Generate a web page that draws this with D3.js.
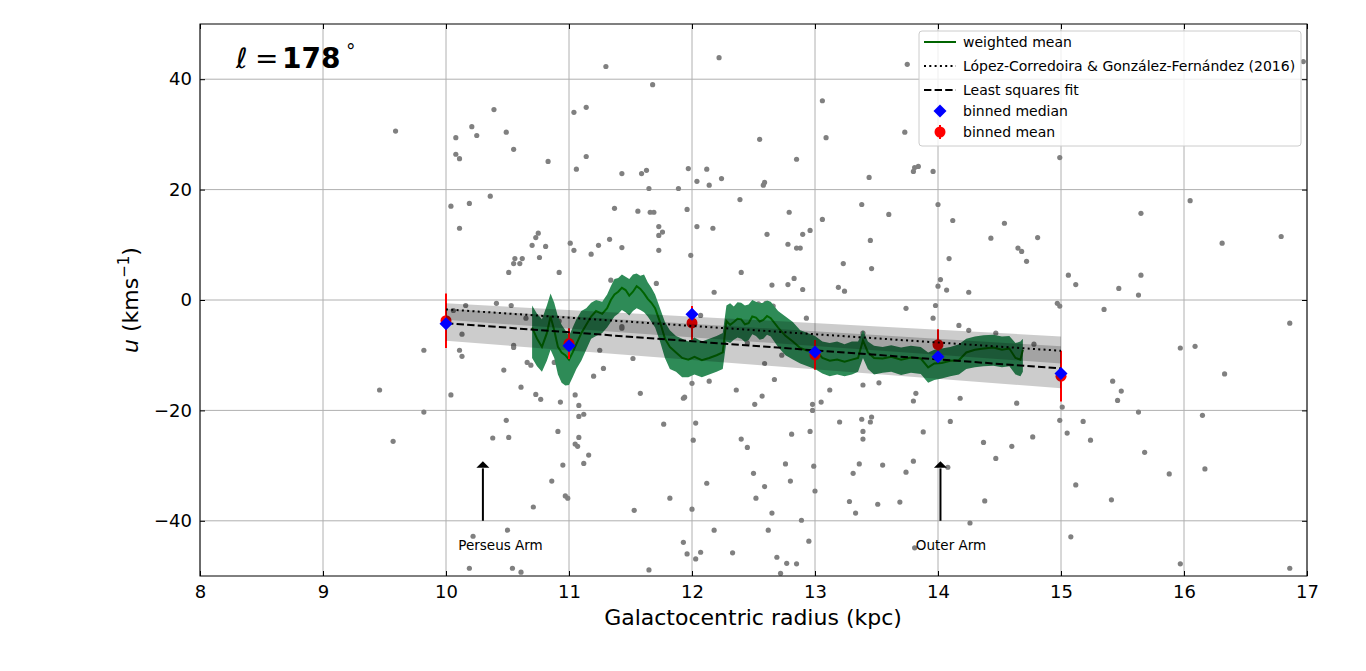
<!DOCTYPE html>
<html>
<head>
<meta charset="utf-8">
<script src="https://cdn.jsdelivr.net/npm/d3@7"></script>
<style>
body { margin: 0; background: #fff; }
text { font-family: "DejaVu Sans", sans-serif; }
</style>
</head>
<body>
<svg id="svg"></svg>
<script>
// individual stars: [R (kpc), u (km/s)]
const stars = [
  [9.59,30.6],[9.46,-16.3],[9.57,-25.6],[9.82,-9.1],[9.82,-20.3],
  [10.08,29.4],[10.08,26.4],[10.11,25.6],[10.21,31.4],[10.25,29.8],[10.39,34.5],[10.49,30.4],[10.55,27.3],[10.83,25.1],
  [10.04,17.0],[10.19,17.5],[10.36,18.8],[10.11,13.0],[10.70,9.9],[10.73,11.3],[10.75,12.1],[10.81,9.7],[10.76,7.7],
  [10.55,6.6],[10.56,7.5],[10.60,6.6],[10.62,7.5],[10.51,5.0],[10.92,5.0],[11.01,10.3],[11.04,9.0],
  [11.04,34.0],[11.14,34.9],[11.30,42.3],[11.68,39.0],[11.06,23.7],[11.14,26.0],[11.43,22.9],[11.59,22.9],[11.63,23.5],
  [11.65,20.2],[11.89,20.2],[11.97,23.8],[11.37,16.6],[11.56,16.1],[11.66,15.9],[11.69,15.9],[11.96,16.4],[11.73,13.3],
  [11.73,11.7],[11.76,12.3],[11.33,11.0],[11.24,9.9],[11.43,9.5],[11.18,8.3],[11.73,9.0],[11.34,3.6],[11.71,3.0],
  [12.22,43.9],[13.75,42.7],[13.06,36.1],[13.09,29.4],[13.73,30.4],[12.55,29.1],[12.85,25.5],[12.12,23.7],[12.04,21.5],
  [12.14,20.8],[12.24,22.0],[12.59,21.3],[12.58,20.8],[13.44,22.2],[13.80,23.3],[13.81,24.0],[13.84,24.2],[13.96,23.3],
  [12.39,18.2],[12.79,15.9],[13.38,17.3],[13.60,15.5],[14.00,17.3],[13.06,14.6],[14.12,14.4],[14.54,13.9],[12.04,13.3],
  [12.17,13.0],[12.61,11.9],[12.90,11.9],[12.96,12.6],[12.78,10.1],[12.85,9.4],[12.88,9.4],[13.45,10.8],[14.43,11.2],
  [11.99,8.1],[14.09,7.5],[13.23,6.6],[13.46,5.7],[12.40,5.0],[12.83,3.9],[12.65,2.7],[12.78,2.8],[12.90,1.9],[13.19,2.3],
  [13.24,1.6],[12.18,1.4],[14.02,3.7],[14.00,2.5],[14.07,1.8],[14.25,1.4],[16.97,43.2],
  [14.99,25.8],[16.05,18.0],[15.65,15.7],[14.81,11.3],[14.65,9.4],[14.68,8.8],[14.72,7.0],[16.31,10.3],[16.79,11.5],
  [15.06,4.5],[15.12,2.8],[15.47,2.1],[15.65,4.5],[15.63,0.9],[14.97,-0.6],[14.99,-1.1],[15.35,-1.7],[16.86,-4.2],
  [14.78,-8.0],[15.97,-8.7],[16.09,-8.4],[16.33,-13.4],[15.42,-14.7],[15.49,-16.5],[15.46,-18.2],[15.63,-20.3],
  [14.64,-18.7],[15.01,-19.4],[14.99,-21.8],[15.18,-22.0],[15.05,-24.1],[15.24,-25.4],[14.77,-24.8],[14.60,-26.5],
  [16.15,-20.9],[15.68,-27.6],[15.88,-31.5],[16.17,-30.6],[15.12,-33.5],[15.41,-36.2],[15.08,-42.9],[15.97,-47.8],[16.86,-48.6],
  [10.16,-1.0],[10.41,-0.6],[10.53,-1.0],[10.06,-1.9],[10.13,-6.2],[10.11,-9.1],[10.13,-10.2],[10.47,-12.7],[10.55,-8.6],
  [10.55,-8.2],[10.66,-11.3],[10.69,-11.8],[10.88,-11.3],[10.61,-15.8],[10.73,-17.1],[10.77,-18.0],[10.93,-18.5],
  [10.04,-17.2],[10.49,-21.8],[10.38,-25.0],[10.51,-24.9],[10.91,-23.8],[11.05,-17.2],[11.08,-19.1],[11.08,-21.1],
  [11.12,-20.7],[11.08,-24.9],[11.05,-26.1],[11.07,-26.5],[11.16,-28.1],[11.12,-29.6],[10.95,-29.9],[10.86,-32.8],
  [10.97,-35.5],[10.99,-35.9],[10.71,-37.5],[11.20,-13.8],[11.28,-12.4],[11.25,-9.1],[11.52,-10.6],[11.58,-16.9],
  [11.93,-17.8],[11.94,-17.6],[11.77,-22.5],[11.82,-35.9],[11.53,-38.1],[11.43,-5.1],[11.43,-4.8],[10.22,-42.8],
  [10.50,-41.7],[10.19,-48.6],[10.54,-48.6],[10.61,-49.3],[11.65,-48.9],[11.93,-43.9],[11.96,-46.0],[10.92,-3.8],[10.65,-3.3],
  [12.93,-3.3],[13.39,-6.0],[13.21,-8.3],[12.73,-10.0],[12.59,-11.5],[12.67,-14.4],[13.12,-16.3],[13.39,-15.4],[13.52,-15.0],
  [13.74,-1.5],[13.98,-1.0],[13.96,-3.3],[14.17,-4.6],[14.25,-5.5],[14.47,-6.0],[13.82,-16.9],[14.18,-17.8],
  [12.54,-0.7],[12.60,-0.6],[12.66,-1.1],[12.07,-2.8],[12.45,-7.8],[12.36,-16.3],[12.57,-17.4],[12.51,-18.9],[12.14,-14.7],
  [12.00,-15.1],[12.98,-18.9],[12.98,-20.0],[13.05,-18.5],[13.80,-18.3],[12.03,-22.3],[12.01,-25.4],[12.40,-25.2],
  [12.45,-26.7],[12.81,-24.3],[12.96,-23.8],[13.20,-22.1],[13.38,-21.6],[13.45,-22.1],[13.46,-21.2],[13.39,-23.8],
  [13.39,-25.2],[13.88,-23.9],[14.10,-22.0],[14.37,-25.8],[14.47,-28.7],[14.08,-30.3],[12.76,-29.7],[12.99,-30.1],
  [13.36,-29.7],[13.55,-29.9],[13.80,-29.2],[13.74,-31.2],[13.31,-31.4],[12.50,-31.4],[12.80,-32.8],[12.12,-33.2],
  [12.59,-33.8],[13.00,-34.6],[12.52,-35.9],[13.28,-36.5],[13.51,-37.0],[13.69,-36.6],[14.38,-36.4],[13.33,-38.6],
  [12.65,-38.6],[12.00,-37.9],[12.89,-39.9],[14.26,-40.4],[12.18,-41.7],[12.62,-41.7],[12.95,-43.7],[12.07,-45.7],
  [12.33,-45.8],[12.03,-46.9],[12.69,-46.6],[12.77,-47.7],[12.85,-47.8],[12.72,-49.5],[13.81,-44.9]
];

// running weighted mean and its 1-sigma band
const wmR = [10.70,10.74,10.78,10.82,10.85,10.88,10.91,10.94,10.97,11.00,11.03,11.06,11.10,11.14,11.18,11.22,11.27,11.31,
  11.34,11.37,11.40,11.43,11.46,11.49,11.52,11.55,11.58,11.61,11.64,11.67,11.70,11.74,11.78,11.82,11.87,11.92,11.97,
  12.02,12.08,12.14,12.20,12.25,12.28,12.31,12.34,12.37,12.40,12.43,12.46,12.49,12.52,12.55,12.58,12.61,12.64,
  12.70,12.76,12.82,12.88,12.94,13.00,13.06,13.12,13.18,13.24,13.30,13.35,13.39,13.43,
  13.48,13.55,13.62,13.70,13.78,13.86,13.92,13.97,14.03,14.10,14.17,14.23,14.30,14.37,14.45,14.52,14.58,14.63,14.67,14.69];
const wmMean = [-5.0,-7.0,-8.5,-6.0,-3.0,-5.5,-8.5,-9.5,-10.0,-10.8,-9.5,-8.0,-6.0,-4.5,-3.0,-2.0,-2.5,-1.5,
  0.0,1.0,1.5,2.2,1.8,0.8,1.5,2.5,2.0,1.2,0.2,-0.5,-1.5,-4.0,-7.0,-8.5,-9.5,-10.5,-10.8,
  -10.3,-10.9,-10.5,-10.0,-9.5,-3.8,-4.5,-4.0,-3.4,-3.5,-4.4,-4.2,-3.0,-3.2,-3.9,-3.6,-2.9,-3.3,
  -5.0,-6.5,-7.5,-8.7,-9.2,-9.0,-10.5,-11.0,-10.8,-11.2,-10.8,-10.5,-7.3,-9.5,
  -10.5,-10.6,-10.3,-10.8,-10.4,-10.6,-12.2,-11.5,-11.4,-11.0,-10.9,-9.5,-9.0,-8.8,-8.6,-9.0,-8.8,-10.5,-10.8,-9.0];
const wmLo = [-10.5,-12.0,-13.0,-11.0,-9.0,-10.5,-13.5,-15.0,-15.5,-15.4,-14.0,-12.5,-11.0,-9.0,-7.0,-6.5,-6.0,-5.0,
  -4.0,-3.0,-2.5,-1.8,-2.2,-2.8,-2.0,-1.5,-1.8,-2.2,-3.0,-4.0,-5.0,-7.5,-10.5,-12.5,-13.0,-14.0,-14.0,
  -13.5,-14.0,-13.5,-13.0,-12.5,-7.5,-7.8,-7.2,-6.8,-7.0,-7.6,-7.3,-6.2,-6.5,-7.2,-7.0,-6.3,-6.6,
  -8.5,-10.0,-10.8,-11.5,-12.0,-12.5,-13.3,-13.8,-13.5,-13.8,-13.5,-13.0,-10.5,-12.5,
  -13.5,-13.2,-13.0,-13.6,-13.2,-13.4,-15.0,-14.5,-14.2,-13.8,-13.5,-12.5,-12.2,-12.0,-11.9,-12.2,-12.0,-13.5,-13.8,-13.0];
const wmHi = [-1.0,-2.5,-3.5,-1.0,1.2,-0.5,-3.0,-4.5,-5.5,-6.5,-5.0,-3.5,-2.0,-1.5,-0.5,0.0,-0.3,1.0,
  2.5,3.8,4.0,4.6,4.2,3.8,4.6,4.8,4.4,4.6,3.2,2.2,1.0,-1.5,-4.0,-5.5,-6.5,-7.0,-7.5,
  -6.8,-7.5,-7.0,-6.5,-6.0,-1.0,-0.6,-1.2,-0.4,-0.5,-1.0,-0.8,0.0,-0.3,-0.6,-0.5,-0.1,-0.3,
  -2.0,-3.0,-4.0,-5.5,-6.0,-6.5,-7.5,-7.8,-7.5,-8.0,-7.5,-7.5,-5.5,-7.5,
  -8.3,-8.5,-8.2,-8.6,-8.3,-8.5,-9.5,-9.0,-8.8,-8.5,-8.0,-7.0,-6.6,-6.4,-6.3,-6.6,-6.5,-7.8,-7.5,-7.0];

// binned statistics
const binR = [10, 11, 12, 13, 14, 15];
const binMean = [-3.75, -7.9, -4.15, -9.95, -8.1, -13.8];
const binErr = [4.95, 2.8, 3.05, 2.7, 2.8, 4.6];
const binMedian = [-4.3, -8.3, -2.6, -9.4, -10.3, -13.3];

// linear fits (ends at R = 10 and 15) with their uncertainty bands
const fitR = [10, 15];
const lcFit = [-1.7, -9.2], lcLo = [-3.6, -11.5], lcHi = [-0.6, -6.6];
const lsFit = [-4.2, -12.4], lsLo = [-7.4, -16.0], lsHi = [-1.6, -8.4];

// spiral arm markers
const armNames = ["Perseus Arm", "Outer Arm"];
const armR = [10.3, 14.02];

const xTicks = [8, 9, 10, 11, 12, 13, 14, 15, 16, 17];
const yTicks = [-40, -20, 0, 20, 40];

//////////////////////////////////////////////////////////////////////////////

let width = 1366, height = 671;
let svg = d3.select("#svg").attr("width", width).attr("height", height);

let x = d3.scaleLinear().domain([8, 17]).range([200, 1307]);
let y = d3.scaleLinear().domain([-50, 50]).range([576, 24]);

// grid
svg.append("g").selectAll("line").data(xTicks).enter().append("line")
  .attr("x1", d => x(d)).attr("x2", d => x(d)).attr("y1", y(-50)).attr("y2", y(50))
  .attr("stroke", "#b0b0b0").attr("stroke-width", 1);
svg.append("g").selectAll("line").data(yTicks).enter().append("line")
  .attr("x1", x(8)).attr("x2", x(17)).attr("y1", d => y(d)).attr("y2", d => y(d))
  .attr("stroke", "#b0b0b0").attr("stroke-width", 1);

let plot = svg.append("g");

// stars
plot.selectAll("circle.star").data(stars).enter().append("circle")
  .attr("class", "star")
  .attr("cx", d => x(d[0])).attr("cy", d => y(d[1])).attr("r", 2.6)
  .attr("fill", "#808080");

// weighted mean band and line
let wmIdx = d3.range(wmR.length);
plot.append("path").datum(wmIdx)
  .attr("d", d3.area().x(i => x(wmR[i])).y0(i => y(wmLo[i])).y1(i => y(wmHi[i])))
  .attr("fill", "#2e8b57");
plot.append("path").datum(wmIdx)
  .attr("d", d3.line().x(i => x(wmR[i])).y(i => y(wmMean[i])))
  .attr("fill", "none").attr("stroke", "darkgreen").attr("stroke-width", 2);

// binned mean with error bars
let bins = d3.range(binR.length);
plot.selectAll("line.err").data(bins).enter().append("line")
  .attr("x1", i => x(binR[i])).attr("x2", i => x(binR[i]))
  .attr("y1", i => y(binMean[i] - binErr[i])).attr("y2", i => y(binMean[i] + binErr[i]))
  .attr("stroke", "red").attr("stroke-width", 2);
plot.selectAll("circle.mean").data(bins).enter().append("circle")
  .attr("cx", i => x(binR[i])).attr("cy", i => y(binMean[i])).attr("r", 5.5)
  .attr("fill", "red");

// fit uncertainty bands
let fitIdx = [0, 1];
[[lcLo, lcHi], [lsLo, lsHi]].forEach(function(b) {
  plot.append("path").datum(fitIdx)
    .attr("d", d3.area().x(i => x(fitR[i])).y0(i => y(b[0][i])).y1(i => y(b[1][i])))
    .attr("fill", "black").attr("fill-opacity", 0.2);
});

// fit lines
plot.append("path").datum(fitIdx)
  .attr("d", d3.line().x(i => x(fitR[i])).y(i => y(lcFit[i])))
  .attr("fill", "none").attr("stroke", "black").attr("stroke-width", 2)
  .attr("stroke-dasharray", "2,3.3");
plot.append("path").datum(fitIdx)
  .attr("d", d3.line().x(i => x(fitR[i])).y(i => y(lsFit[i])))
  .attr("fill", "none").attr("stroke", "black").attr("stroke-width", 2)
  .attr("stroke-dasharray", "7.4,3.2");

// binned median diamonds
function diamond(cx, cy, r) {
  return "M" + cx + "," + (cy - r) + "L" + (cx + r) + "," + cy + "L" + cx + "," + (cy + r) + "L" + (cx - r) + "," + cy + "Z";
}
plot.selectAll("path.med").data(bins).enter().append("path")
  .attr("d", i => diamond(x(binR[i]), y(binMedian[i]), 6.5))
  .attr("fill", "blue");

// arm arrows
let arms = d3.range(armNames.length);
arms.forEach(function(i) {
  let ax = x(armR[i]);
  plot.append("line")
    .attr("x1", ax).attr("x2", ax).attr("y1", y(-40)).attr("y2", y(-30.5))
    .attr("stroke", "black").attr("stroke-width", 2);
  plot.append("path")
    .attr("d", "M" + (ax - 6.5) + "," + (y(-29.2) + 6.5) + "L" + ax + "," + y(-29.2) + "L" + (ax + 6.5) + "," + (y(-29.2) + 6.5) + "Z")
    .attr("fill", "black");
  plot.append("text")
    .attr("x", x(armR[i] - 0.2)).attr("y", y(-45.2))
    .attr("font-size", "13.5px").attr("fill", "black")
    .text(armNames[i]);
});

// axes with inward ticks
let gx = svg.append("g").attr("transform", "translate(0," + y(-50) + ")")
  .call(d3.axisBottom(x).tickValues(xTicks).tickSize(-5).tickPadding(9).tickFormat(d3.format("d")));
let gxTop = svg.append("g").attr("transform", "translate(0," + y(50) + ")")
  .call(d3.axisTop(x).tickValues(xTicks).tickSize(-5).tickFormat(""));
let gy = svg.append("g").attr("transform", "translate(" + x(8) + ",0)")
  .call(d3.axisLeft(y).tickValues(yTicks).tickSize(-5).tickPadding(8).tickFormat(d => d < 0 ? "\u2212" + Math.abs(d) : d));
let gyRight = svg.append("g").attr("transform", "translate(" + x(17) + ",0)")
  .call(d3.axisRight(y).tickValues(yTicks).tickSize(-5).tickFormat(""));
[gx, gxTop, gy, gyRight].forEach(function(g) {
  g.select(".domain").remove();
  g.selectAll("line").attr("stroke", "black");
  g.selectAll("text").attr("font-size", "18px").attr("fill", "black")
    .style("font-family", "DejaVu Sans");
});

svg.append("rect").attr("x", x(8)).attr("y", y(50))
  .attr("width", x(17) - x(8)).attr("height", y(-50) - y(50))
  .attr("fill", "none").attr("stroke", "black").attr("stroke-width", 1);

// axis labels
svg.append("text").attr("x", 753).attr("y", 625).attr("text-anchor", "middle")
  .attr("font-size", "22px").text("Galactocentric radius (kpc)");

let yl = svg.append("text").attr("transform", "translate(138,300) rotate(-90)")
  .attr("text-anchor", "middle").attr("font-size", "22px");
yl.append("tspan").attr("font-style", "italic").text("u");
yl.append("tspan").text(" (kms");
yl.append("tspan").attr("font-size", "15px").attr("dy", -9).text("\u22121");
yl.append("tspan").attr("dy", 9).text(")");

// longitude label
let tl = svg.append("text").attr("y", 68).attr("font-size", "28px");
tl.append("tspan").attr("x", 236).attr("font-style", "italic").text("\u2113");
tl.append("tspan").attr("x", 255).text("=");
tl.append("tspan").attr("x", 282).attr("font-weight", "bold").text("178");
tl.append("tspan").attr("x", 346).attr("font-size", "19px").attr("dy", -10).text("\u00b0");

// legend
let leg = svg.append("g");
leg.append("rect").attr("x", 919).attr("y", 31).attr("width", 382).attr("height", 115)
  .attr("rx", 3).attr("fill", "white").attr("fill-opacity", 0.8)
  .attr("stroke", "#cccccc").attr("stroke-width", 1);
let legNames = ["weighted mean", "L\u00f3pez-Corredoira & Gonz\u00e1lez-Fern\u00e1ndez (2016)", "Least squares fit", "binned median", "binned mean"];
let legY = [42, 66, 90, 111, 132];
leg.append("line").attr("x1", 924).attr("x2", 956).attr("y1", legY[0]).attr("y2", legY[0])
  .attr("stroke", "darkgreen").attr("stroke-width", 2);
leg.append("line").attr("x1", 924).attr("x2", 956).attr("y1", legY[1]).attr("y2", legY[1])
  .attr("stroke", "black").attr("stroke-width", 2).attr("stroke-dasharray", "2,3.3");
leg.append("line").attr("x1", 924).attr("x2", 956).attr("y1", legY[2]).attr("y2", legY[2])
  .attr("stroke", "black").attr("stroke-width", 2).attr("stroke-dasharray", "7.4,3.2");
leg.append("path").attr("d", diamond(940, legY[3], 6.5)).attr("fill", "blue");
leg.append("line").attr("x1", 940).attr("x2", 940).attr("y1", legY[4] - 7).attr("y2", legY[4] + 7)
  .attr("stroke", "red").attr("stroke-width", 2);
leg.append("circle").attr("cx", 940).attr("cy", legY[4]).attr("r", 5.5).attr("fill", "red");
leg.selectAll("text").data(legNames).enter().append("text")
  .attr("x", 963).attr("y", (d, i) => legY[i] + 5)
  .attr("font-size", "14px").attr("fill", "black")
  .text(d => d);
</script>
</body>
</html>
